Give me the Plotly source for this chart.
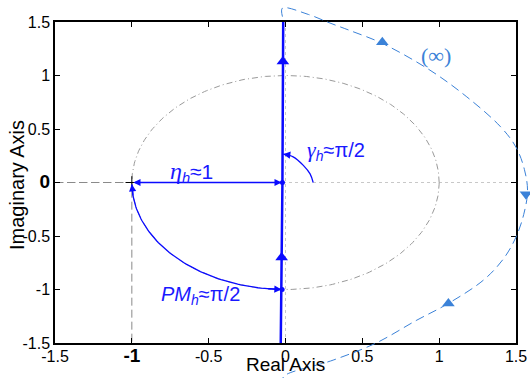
import numpy as np
import plotly.graph_objects as go

W, H = 530, 378

# Nyquist line of the loop (real / imaginary parts)
nyq_re = [-0.031, -0.02, -0.015]
nyq_im = [-1.5, 0.0, 1.5]
# direction markers and marked points on the Nyquist line
nyq_arrow_re = [-0.017, -0.025]
nyq_arrow_im = [1.13, -0.70]
nyq_dot_re = [-0.02, -0.022]
nyq_dot_im = [0.0, -1.0]

# contour at infinity
inf_re = [-0.02, -0.02, 0.15, 0.29, 0.42, 0.63, 0.94, 1.18, 1.40, 1.50, 1.555, 1.575,
          1.55, 1.50, 1.42, 1.29, 1.06, 0.85, 0.59, 0.31, -0.01, -0.02]
inf_im = [1.55, 1.63, 1.57, 1.49, 1.42, 1.30, 1.05, 0.80, 0.52, 0.33, 0.12, -0.08,
          -0.30, -0.51, -0.71, -0.91, -1.13, -1.29, -1.50, -1.66, -1.81, -1.86]
inf_arrow_re = [0.63, 1.06]
inf_arrow_im = [1.31, -1.13]
inf_arrow_dn_re = [1.565]
inf_arrow_dn_im = [-0.11]

# phase margin arc on the unit circle, from -1 to the crossing point (degrees)
pm_deg = [181.0, 268.5]
# angle arc gamma_h
gam_re = [0.18, 0.16, 0.116, 0.05, -0.015]
gam_im = [0.0, 0.08, 0.16, 0.24, 0.265]

tick_vals = [-1.5, -1, -0.5, 0, 0.5, 1, 1.5]
x_tick_text = ["-1.5", "<b><span style='font-size:19px'>-1</span></b>", "-0.5", "0", "0.5", "1", "1.5"]
y_tick_text = ["-1.5", "-1", "-0.5", "<b><span style='font-size:19px'>0</span></b>", "0.5", "1", "1.5"]

BLUE = "rgb(10,10,255)"
TXT_BLUE = "rgb(25,25,255)"
LBLUE = "#3b82d8"
FONT = "Liberation Sans, Arial, sans-serif"
SERIF = "Liberation Serif"

# plot-area placement in pixels
L, R, T, B = 55, 516, 22, 343
xdom = [L / W, R / W]
ydom = [1 - B / H, 1 - T / H]
xr = [-1.5, 1.5]
yr = [-1.5, 1.5]
# full-figure axes sharing the same scale, so the infinity contour is not clipped
sx = (xr[1] - xr[0]) / (R - L)
sy = (yr[1] - yr[0]) / (B - T)
xr2 = [xr[0] - L * sx, xr[1] + (W - R) * sx]
yr2 = [yr[0] - (H - B) * sy, yr[1] + T * sy]

fig = go.Figure()

# grid lines through the origin
fig.add_trace(go.Scatter(x=[-1.5, 1.5], y=[0, 0], mode="lines",
                         line=dict(color="#c8c8c8", width=1, dash="dot"), hoverinfo="skip"))
fig.add_trace(go.Scatter(x=[0, 0], y=[-1.5, 1.5], mode="lines",
                         line=dict(color="#c8c8c8", width=1, dash="dot"), hoverinfo="skip"))

# unit circle
th = np.linspace(0, 2 * np.pi, 400)
fig.add_trace(go.Scatter(x=np.cos(th), y=np.sin(th), mode="lines",
                         line=dict(color="#9a9a9a", width=1, dash="6px,3px,1px,3px"), hoverinfo="skip"))

# guides to the critical point -1
fig.add_trace(go.Scatter(x=[-1.5, -1, -1], y=[0, 0, -1.5], mode="lines",
                         line=dict(color="#8a8a8a", width=1, dash="8px,4px"), hoverinfo="skip"))
fig.add_trace(go.Scatter(x=[-1], y=[0], mode="markers",
                         marker=dict(symbol="cross-thin", size=9, line=dict(color="black", width=1)),
                         hoverinfo="skip"))

# Nyquist line
fig.add_trace(go.Scatter(x=nyq_re, y=nyq_im, mode="lines",
                         line=dict(color=BLUE, width=2.5), hoverinfo="skip"))
fig.add_trace(go.Scatter(x=nyq_arrow_re, y=nyq_arrow_im, mode="markers",
                         marker=dict(symbol="triangle-up", size=11, color=BLUE), hoverinfo="skip"))
fig.add_trace(go.Scatter(x=nyq_dot_re, y=nyq_dot_im, mode="markers",
                         marker=dict(symbol="circle", size=5, color=BLUE), hoverinfo="skip"))

# phase margin arc and gamma arc
pm_t = np.radians(np.linspace(pm_deg[0], pm_deg[1], 80))
pm_re, pm_im = np.cos(pm_t), np.sin(pm_t)
fig.add_trace(go.Scatter(x=pm_re, y=pm_im, mode="lines",
                         line=dict(color=BLUE, width=1.3), hoverinfo="skip"))
fig.add_trace(go.Scatter(x=gam_re, y=gam_im, mode="lines", line_shape="spline",
                         line=dict(color=BLUE, width=1.3), hoverinfo="skip"))

# infinity contour on the full-figure axes
fig.add_trace(go.Scatter(x=inf_re, y=inf_im, mode="lines", line_shape="spline",
                         line=dict(color=LBLUE, width=1, dash="9px,5px"),
                         xaxis="x2", yaxis="y2", hoverinfo="skip"))
fig.add_trace(go.Scatter(x=inf_arrow_re, y=inf_arrow_im, mode="markers",
                         marker=dict(symbol="triangle-up", size=11, color=LBLUE),
                         xaxis="x2", yaxis="y2", hoverinfo="skip"))
fig.add_trace(go.Scatter(x=inf_arrow_dn_re, y=inf_arrow_dn_im, mode="markers",
                         marker=dict(symbol="triangle-down", size=11, color=LBLUE),
                         xaxis="x2", yaxis="y2", hoverinfo="skip"))

ann = []
# arrow heads
def head(x, y, ax, ay, side="end"):
    ann.append(dict(x=x, y=y, ax=ax, ay=ay, xref="x", yref="y", axref="x", ayref="y",
                    text="", showarrow=True, arrowhead=2, arrowsize=1.1, arrowwidth=1.3,
                    arrowcolor=BLUE, arrowside=side))

head(-0.025, 0, -1.0, 0, side="end+start")
head(pm_re[-1], pm_im[-1], pm_re[-6], pm_im[-6])
head(pm_re[0], pm_im[0], pm_re[6], pm_im[6])
head(gam_re[-1], gam_im[-1], 0.02, 0.258)

# labels
def label(x, y, text, size=20, color=TXT_BLUE, family=FONT, xref="x", yref="y"):
    ann.append(dict(x=x, y=y, xref=xref, yref=yref, xanchor="center", yanchor="middle",
                    showarrow=False, text=text, font=dict(family=family, size=size, color=color)))

label(-0.61, 0.10, f"<i><span style='font-family:{SERIF};font-size:24px'>η</span><sub>h</sub></i>≈1", size=21)
label(0.33, 0.30, f"<i><span style='font-family:{SERIF};font-size:22px'>γ</span><sub>h</sub></i>≈π/2")
label(-0.55, -1.06, "<i>PM<sub>h</sub></i>≈π/2")
label(0.98, 1.19, "(∞)", size=22, color=LBLUE, family=SERIF, xref="x2", yref="y2")

# axis titles
ann.append(dict(x=(L + R) / 2 / W, y=1 - 377 / H, xref="paper", yref="paper", showarrow=False,
                xanchor="center", yanchor="bottom",
                text="Real Axis", font=dict(family=FONT, size=19, color="black")))
ann.append(dict(x=17 / W, y=1 - 185 / H, xref="paper", yref="paper", showarrow=False, textangle=-90,
                xanchor="center", yanchor="middle",
                text="Imaginary Axis", font=dict(family=FONT, size=20, color="black")))

axis_common = dict(showgrid=False, zeroline=False, showline=True, linecolor="black", linewidth=1.5,
                   mirror="ticks", ticks="inside", ticklen=5, tickwidth=1, tickcolor="black",
                   tickmode="array", tickvals=tick_vals, automargin=False,
                   tickfont=dict(family=FONT, size=16, color="black"))

fig.update_layout(
    width=W, height=H, margin=dict(l=0, r=0, t=0, b=0),
    paper_bgcolor="white", plot_bgcolor="rgba(0,0,0,0)", showlegend=False,
    xaxis=dict(domain=xdom, range=xr, ticktext=x_tick_text, anchor="y",
               ticklabelstandoff=-2, **axis_common),
    yaxis=dict(domain=ydom, range=yr, ticktext=y_tick_text, anchor="x", **axis_common),
    xaxis2=dict(domain=[0, 1], range=xr2, visible=False, anchor="y2"),
    yaxis2=dict(domain=[0, 1], range=yr2, visible=False, anchor="x2"),
    annotations=ann,
)

fig.write_html("out.html")
